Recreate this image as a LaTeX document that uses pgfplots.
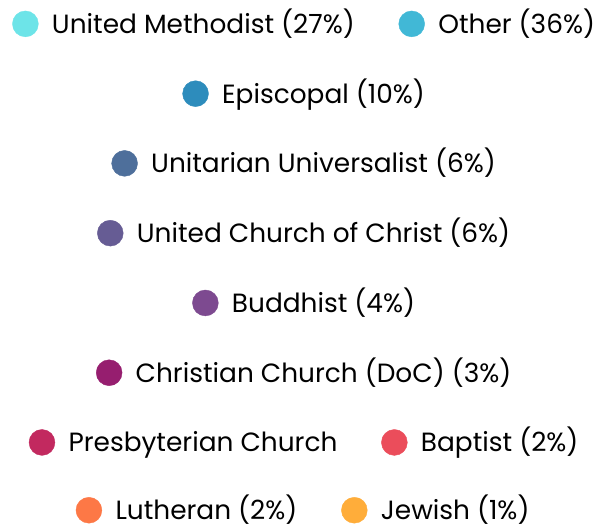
\documentclass[border=0pt]{standalone}
\usepackage{pgfplots}
\pgfplotsset{compat=1.18}
\usepackage{fontspec}
\setmainfont{Poppins}

\definecolor{cMeth}{HTML}{6DE4E8}
\definecolor{cOther}{HTML}{41B8D6}
\definecolor{cEpis}{HTML}{2D8CBC}
\definecolor{cUU}{HTML}{4E6F9B}
\definecolor{cUCC}{HTML}{665C94}
\definecolor{cBudd}{HTML}{7D4A90}
\definecolor{cDoC}{HTML}{961E6F}
\definecolor{cPres}{HTML}{C2295F}
\definecolor{cBapt}{HTML}{EB4D5B}
\definecolor{cLuth}{HTML}{FD7846}
\definecolor{cJew}{HTML}{FFAD3A}

\pgfplotsset{
  legend image code/.code={\fill[#1] (0bp,6bp) circle (13bp);
    \path (24.5bp,6bp);},
  legrow/.style={
    hide axis, scale only axis, width=10bp, height=10bp,
    xmin=0, xmax=1, ymin=0, ymax=1, anchor=center,
    legend columns=-1,
    legend style={at={(0.5,0.5)}, anchor=center, draw=none, fill=none,
      font=\fontsize{26.5bp}{30bp}\selectfont,
      /tikz/every even column/.append style={column sep=42bp},
      nodes={inner xsep=2bp, inner ysep=0bp, text height=0.7em, text depth=0pt}},
  },
}

\begin{document}
\begin{tikzpicture}
\path (0bp,0bp) rectangle (600bp,531bp);

\begin{axis}[legrow, at={(306bp,507bp)}]
  \addlegendimage{cMeth}\addlegendentry{United Methodist (27\%)}
  \addlegendimage{cOther}\addlegendentry{Other (36\%)}
\end{axis}

\begin{axis}[legrow, at={(306bp,436.9bp)}]
  \addlegendimage{cEpis}\addlegendentry{Episcopal (10\%)}
\end{axis}

\begin{axis}[legrow, at={(306bp,366.9bp)}]
  \addlegendimage{cUU}\addlegendentry{Unitarian Universalist (6\%)}
\end{axis}

\begin{axis}[legrow, at={(306bp,296.8bp)}]
  \addlegendimage{cUCC}\addlegendentry{United Church of Christ (6\%)}
\end{axis}

\begin{axis}[legrow, at={(306bp,226.7bp)}]
  \addlegendimage{cBudd}\addlegendentry{Buddhist (4\%)}
\end{axis}

\begin{axis}[legrow, at={(306bp,156.6bp)}]
  \addlegendimage{cDoC}\addlegendentry{Christian Church (DoC) (3\%)}
\end{axis}

\begin{axis}[legrow, at={(306bp,86.6bp)}]
  \addlegendimage{cPres}\addlegendentry{Presbyterian Church}
  \addlegendimage{cBapt}\addlegendentry{Baptist (2\%)}
\end{axis}

\begin{axis}[legrow, at={(305bp,18.5bp)}]
  \addlegendimage{cLuth}\addlegendentry{Lutheran (2\%)}
  \addlegendimage{cJew}\addlegendentry{Jewish (1\%)}
\end{axis}

\end{tikzpicture}
\end{document}
